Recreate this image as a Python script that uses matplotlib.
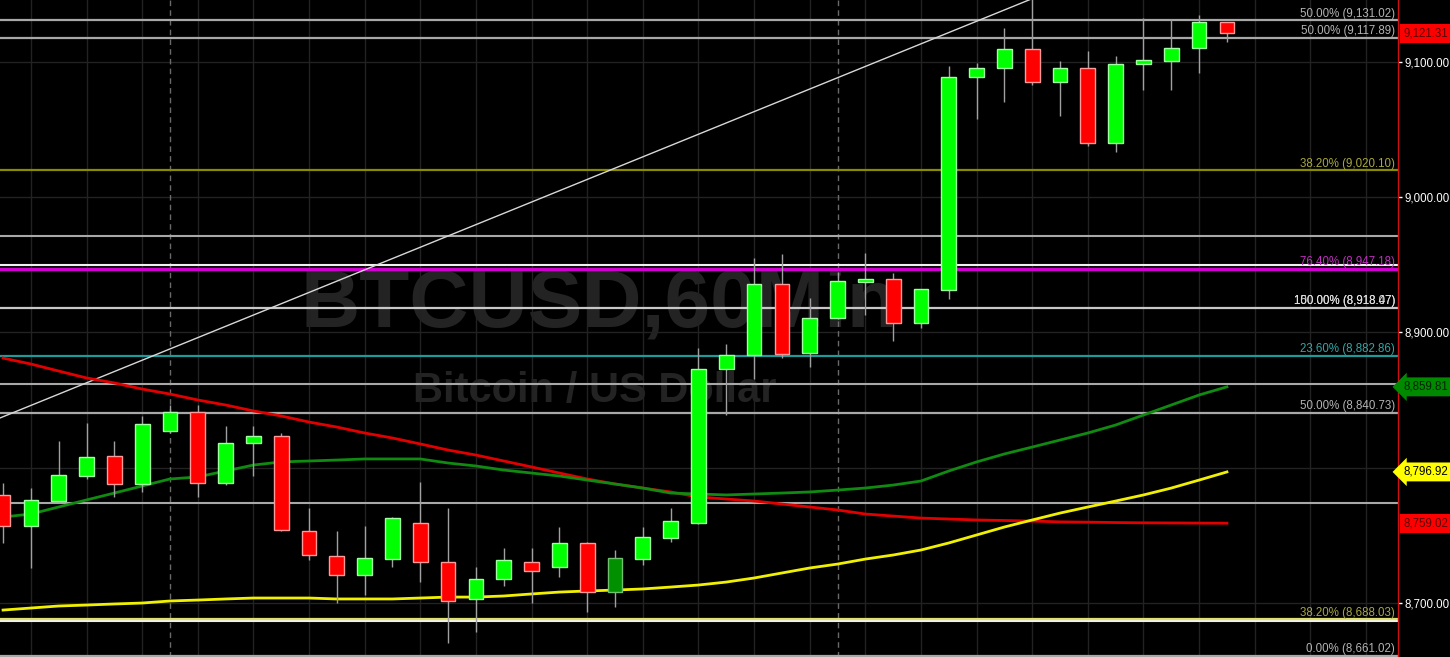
import matplotlib
matplotlib.use("Agg")
import matplotlib.pyplot as plt
import matplotlib.transforms as mtrans

# hourly candles, BTCUSD
opens = [8779.9, 8756.9, 8775.4, 8793.9, 8808.7, 8788.0, 8827.2, 8841.2, 8788.7, 8818.3,
         8823.5, 8753.2, 8734.8, 8720.7, 8732.5, 8759.2, 8730.3, 8703.0, 8717.7, 8730.3,
         8726.6, 8744.4, 8708.1, 8732.5, 8748.1, 8759.2, 8873.0, 8883.4, 8935.9, 8884.8,
         8910.7, 8937.3, 8939.6, 8907.0, 8931.4, 9088.9, 9095.6, 9109.6, 9085.2, 9095.6,
         9040.1, 9098.5, 9100.7, 9110.4, 9129.6]
highs = [8788.7, 8785.0, 8819.8, 8833.1, 8819.8, 8838.3, 8846.4, 8846.4, 8830.9, 8830.9,
         8826.0, 8770.2, 8753.2, 8756.9, 8763.6, 8789.5, 8770.2, 8726.6, 8740.7, 8740.7,
         8756.2, 8745.0, 8739.2, 8756.2, 8770.2, 8888.5, 8891.5, 8955.1, 8958.0, 8925.5,
         8945.0, 8958.8, 8944.0, 8932.5, 9097.0, 9099.3, 9125.1, 9150.0, 9100.7, 9108.1,
         9104.4, 9132.5, 9131.8, 9134.8, 9129.6]
lows = [8744.4, 8725.9, 8774.0, 8791.7, 8778.4, 8782.1, 8826.0, 8778.4, 8787.0, 8793.9,
        8753.2, 8731.8, 8700.0, 8705.9, 8726.6, 8715.5, 8670.4, 8678.6, 8712.6, 8700.0,
        8719.2, 8693.3, 8697.0, 8728.1, 8745.1, 8758.5, 8839.0, 8865.6, 8881.0, 8874.5,
        8910.0, 8912.9, 8893.7, 8903.3, 8924.8, 9057.9, 9070.4, 9083.0, 9060.1, 9037.9,
        9033.5, 9079.3, 9079.3, 9091.9, 9114.8]
closes = [8756.9, 8776.2, 8794.6, 8807.9, 8788.0, 8832.3, 8841.2, 8788.7, 8818.3, 8823.5,
          8754.0, 8735.5, 8720.7, 8733.3, 8762.8, 8730.3, 8701.5, 8717.7, 8731.8, 8723.7,
          8744.4, 8708.1, 8733.3, 8748.8, 8760.6, 8873.0, 8883.4, 8935.9, 8884.1, 8910.7,
          8938.1, 8939.6, 8907.0, 8932.2, 9088.9, 9095.6, 9109.6, 9085.2, 9095.6, 9040.1,
          9098.5, 9101.5, 9110.4, 9129.6, 9121.31]

ma_red = [8881.1, 8876.7, 8871.5, 8866.4, 8862.7, 8858.2, 8854.5, 8850.1, 8846.4, 8842.0,
          8838.3, 8833.8, 8830.1, 8825.7, 8822.0, 8817.6, 8813.1, 8809.4, 8805.0, 8800.6,
          8796.1, 8791.7, 8788.0, 8785.0, 8782.1, 8778.4, 8776.9, 8775.4, 8773.2, 8771.0,
          8768.8, 8765.8, 8764.3, 8762.8, 8762.1, 8761.4, 8761.0, 8760.6, 8760.0, 8759.8,
          8759.5, 8759.3, 8759.2, 8759.1, 8759.02]
ma_green = [8763.6, 8765.8, 8771.0, 8776.2, 8781.3, 8786.5, 8791.7, 8793.2, 8797.6, 8802.0,
            8804.3, 8805.0, 8805.7, 8806.5, 8806.5, 8806.5, 8803.5, 8801.3, 8798.3, 8796.1,
            8793.9, 8790.9, 8788.0, 8785.0, 8781.3, 8780.6, 8779.9, 8780.6, 8781.3, 8782.1,
            8783.5, 8785.0, 8787.2, 8790.2, 8797.6, 8804.3, 8810.2, 8815.3, 8820.5, 8825.7,
            8831.6, 8839.0, 8846.4, 8853.8, 8859.81]
ma_yellow = [8694.8, 8696.3, 8697.8, 8698.5, 8699.3, 8700.0, 8701.5, 8702.2, 8703.0, 8703.7,
             8703.7, 8703.7, 8703.0, 8703.0, 8703.0, 8703.7, 8704.4, 8704.4, 8705.2, 8706.7,
             8708.1, 8708.9, 8709.6, 8710.4, 8711.8, 8713.3, 8715.5, 8718.5, 8722.2, 8725.9,
             8728.8, 8732.5, 8735.5, 8739.2, 8744.4, 8750.3, 8756.2, 8761.4, 8766.5, 8771.0,
             8775.4, 8779.9, 8785.0, 8790.9, 8796.92]

# fib levels (price, label, kind)
fib_prices = [9131.02, 9117.89, 9020.10, 8947.18, 8918.27, 8882.86, 8840.73, 8688.03, 8661.02]
fib_labels = ["50.00% (9,131.02)", "50.00% (9,117.89)", "38.20% (9,020.10)", "76.40% (8,947.18)",
              "", "23.60% (8,882.86)", "50.00% (8,840.73)", "38.20% (8,688.03)", "0.00% (8,661.02)"]
fib_kind = ["gray", "gray", "olive", "magenta", "white", "teal", "gray", "yellow", "gray"]
overlap_labels = ["150.00% (8,918.47)", "100.00% (8,918.07)"]
plain_lines = [8971.6, 8949.9, 8861.7, 8773.7, 8686.6]
plain_kind = ["gray", "bright", "gray", "gray", "bright"]

trend_x = [-0.11, 37.0]
trend_y = [8836.8, 9146.8]

grid_prices = [8700, 8800, 8900, 9000, 9100]
day_breaks = [6, 30]
dim_candle = 22

tags = [(9121.31, "9,121.31", "#ff0000", "#5a0000", "square"),
        (8859.81, "8,859.81", "#008a00", "#002200", "larrow"),
        (8796.92, "8,796.92", "#ffff00", "#000000", "larrow"),
        (8759.02, "8,759.02", "#ff0000", "#5a0000", "square")]

line_col = {"gray": "#a8a8a8", "olive": "#8a8a00", "magenta": "#d000d0", "white": "#c8c8c8",
            "teal": "#1f9a9a", "yellow": "#e0e070", "bright": "#f0f0f0"}
text_col = {"gray": "#b4b4b4", "olive": "#a8a840", "magenta": "#c030c0", "white": "#e0e0e0",
            "teal": "#30a8a8", "yellow": "#a8a840"}

sans = ["Liberation Sans", "DejaVu Sans"]

W, H = 1450, 657
plot_w = 1398
fig = plt.figure(figsize=(W / 100, H / 100), dpi=100, facecolor="black")
ax = fig.add_axes([0, 0, plot_w / W, 1])
ax.set_facecolor("black")
ax.set_xlim(-0.11, 50.15)
ax.set_ylim(8660.1, 9145.8)

n = len(opens)
xs = list(range(n))

# grid
for g in grid_prices:
    ax.axhline(g, color="#222222", lw=1, zorder=1)
for k in range(1, 51, 2):
    if k not in day_breaks:
        ax.axvline(k, color="#222222", lw=1, zorder=1)
for d in day_breaks:
    ax.axvline(d, color="#6a6a6a", lw=1, ls=(0, (4, 3)), zorder=1)

# watermark
ax.text(0.4285, 0.535, "BTCUSD,60Min", transform=ax.transAxes, ha="center", va="center",
        fontsize=59, fontweight="bold", color="#232323", family=sans, zorder=0.5)
ax.text(0.4256, 0.405, "Bitcoin / US Dollar", transform=ax.transAxes, ha="center", va="center",
        fontsize=30, fontweight="bold", color="#232323", family=sans, zorder=0.5)

# horizontal levels
for p, k in zip(plain_lines, plain_kind):
    ax.axhline(p, color=line_col[k], lw=1.5, zorder=2)
for p, k in zip(fib_prices, fib_kind):
    ax.axhline(p, color=line_col[k], lw=2.5 if k == "magenta" else 1.6, zorder=2)

lbl_tr = mtrans.blended_transform_factory(ax.transAxes, ax.transData)
for p, lab, k in zip(fib_prices, fib_labels, fib_kind):
    if lab:
        ax.annotate(lab, xy=(0.998, p), xycoords=lbl_tr, xytext=(0, 2.5),
                    textcoords="offset points", ha="right", va="baseline",
                    fontsize=8.3, color=text_col[k], family=sans, zorder=6)
for lab in overlap_labels:
    ax.annotate(lab, xy=(0.998, fib_prices[4]), xycoords=lbl_tr, xytext=(0, 2.5),
                textcoords="offset points", ha="right", va="baseline",
                fontsize=8.3, color=text_col["white"], family=sans, zorder=6)

# trend line
ax.plot(trend_x, trend_y, color="#d8d8d8", lw=1, zorder=3)

# moving averages
ax.plot(xs, ma_red, color="#e00000", lw=2, zorder=3)
ax.plot(xs, ma_green, color="#108a10", lw=2, zorder=3)
ax.plot(xs, ma_yellow, color="#f0f000", lw=2, zorder=3)

# candles
ax.vlines(xs, lows, highs, color="#a0a0a0", lw=1, zorder=4)
for i in xs:
    up = closes[i] >= opens[i]
    if i == dim_candle:
        fc, ec = "#009000", "#70c070"
    elif up:
        fc, ec = "#00ff00", "#a0ffa0"
    else:
        fc, ec = "#ff0000", "#ff9a9a"
    lo = min(opens[i], closes[i])
    hgt = max(abs(closes[i] - opens[i]), 1.2)
    ax.bar(i, hgt, bottom=lo, width=0.53, color=fc, edgecolor=ec, lw=1, zorder=5)

# price axis on the right
for s in ["top", "left", "bottom"]:
    ax.spines[s].set_visible(False)
ax.spines["right"].set_color("#d01010")
ax.spines["right"].set_linewidth(1)
ax.set_xticks([])
ax.yaxis.tick_right()
ax.set_yticks(grid_prices)
ax.set_yticklabels([f"{v:,.2f}" for v in grid_prices])
ax.tick_params(axis="y", colors="white", length=3, width=1, pad=2, labelsize=8.3)
for t in ax.get_yticklabels():
    t.set_family(sans)

tag_tr = mtrans.blended_transform_factory(fig.transFigure, ax.transData)
for p, lab, bg, fg, shape in tags:
    fig.text(1403 / W, p, lab, transform=tag_tr, ha="left", va="center", fontsize=8.3,
             color=fg, family=sans, zorder=10,
             bbox=dict(boxstyle=f"{shape},pad=0.3", fc=bg, ec="none"))

fig.savefig("out.png", dpi=100, facecolor="black")
